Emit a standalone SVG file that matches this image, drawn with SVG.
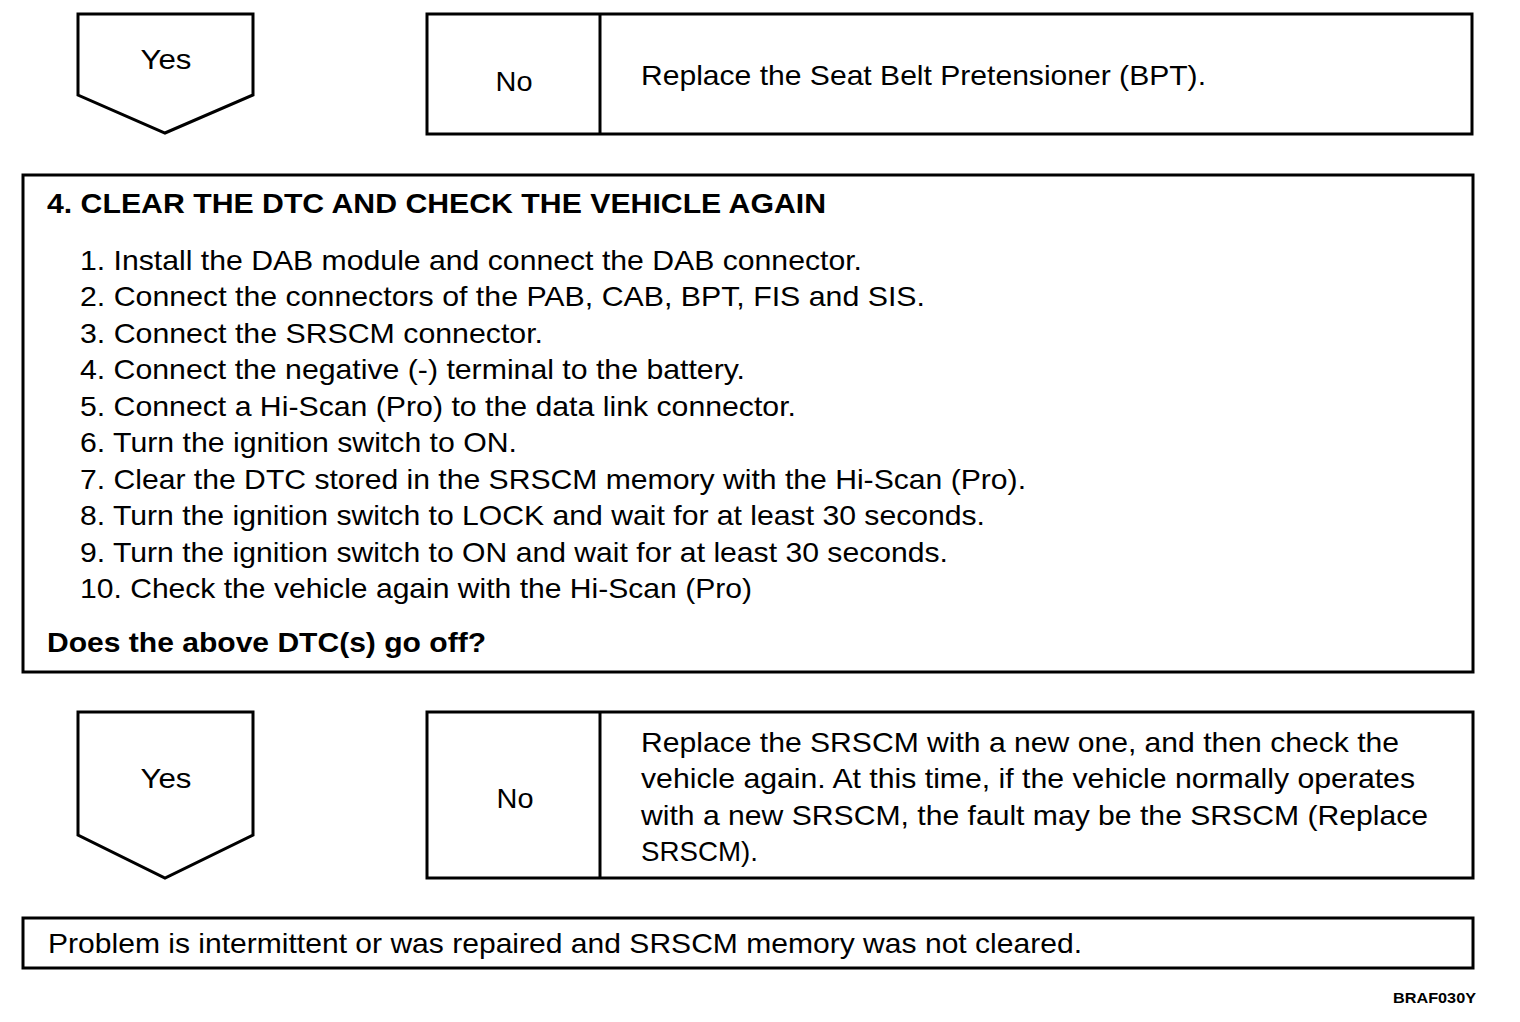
<svg xmlns="http://www.w3.org/2000/svg" width="1520" height="1022" viewBox="0 0 1520 1022">
<style>
.bx{fill:#fff;stroke:#000;stroke-width:3}
.t{font-family:"Liberation Sans",Arial,sans-serif;font-size:28px;fill:#000}
.b{font-weight:bold}
.c{text-anchor:middle}
</style>
<rect width="1520" height="1022" fill="#fff"/>
<g id="connectors"></g>
<g id="yes1">
<polygon class="bx" points="78,14 253,14 253,95 165,133 78,95"/>
<text class="t c" x="166" y="69" textLength="51" lengthAdjust="spacingAndGlyphs">Yes</text>
</g>
<g id="no1">
<rect class="bx" x="427" y="14" width="1045" height="120"/>
<line class="bx" x1="600" y1="14" x2="600" y2="134"/>
<text class="t c" x="514" y="91" textLength="37" lengthAdjust="spacingAndGlyphs">No</text>
<text class="t" x="641" y="85" textLength="565" lengthAdjust="spacingAndGlyphs">Replace the Seat Belt Pretensioner (BPT).</text>
</g>
<g id="step4">
<rect class="bx" x="23" y="175" width="1450" height="497"/>
<text class="t b" x="47" y="213" textLength="779" lengthAdjust="spacingAndGlyphs">4. CLEAR THE DTC AND CHECK THE VEHICLE AGAIN</text>
<text class="t" x="80" y="270" textLength="782" lengthAdjust="spacingAndGlyphs">1. Install the DAB module and connect the DAB connector.</text>
<text class="t" x="80" y="306" textLength="845" lengthAdjust="spacingAndGlyphs">2. Connect the connectors of the PAB, CAB, BPT, FIS and SIS.</text>
<text class="t" x="80" y="343" textLength="463" lengthAdjust="spacingAndGlyphs">3. Connect the SRSCM connector.</text>
<text class="t" x="80" y="379" textLength="665" lengthAdjust="spacingAndGlyphs">4. Connect the negative (-) terminal to the battery.</text>
<text class="t" x="80" y="416" textLength="716" lengthAdjust="spacingAndGlyphs">5. Connect a Hi-Scan (Pro) to the data link connector.</text>
<text class="t" x="80" y="452" textLength="437" lengthAdjust="spacingAndGlyphs">6. Turn the ignition switch to ON.</text>
<text class="t" x="80" y="489" textLength="946" lengthAdjust="spacingAndGlyphs">7. Clear the DTC stored in the SRSCM memory with the Hi-Scan (Pro).</text>
<text class="t" x="80" y="525" textLength="905" lengthAdjust="spacingAndGlyphs">8. Turn the ignition switch to LOCK and wait for at least 30 seconds.</text>
<text class="t" x="80" y="562" textLength="868" lengthAdjust="spacingAndGlyphs">9. Turn the ignition switch to ON and wait for at least 30 seconds.</text>
<text class="t" x="80" y="598" textLength="672" lengthAdjust="spacingAndGlyphs">10. Check the vehicle again with the Hi-Scan (Pro)</text>
<text class="t b" x="47" y="652" textLength="439" lengthAdjust="spacingAndGlyphs">Does the above DTC(s) go off?</text>
</g>
<g id="yes2">
<polygon class="bx" points="78,712 253,712 253,835 165,878 78,835"/>
<text class="t c" x="166" y="788" textLength="51" lengthAdjust="spacingAndGlyphs">Yes</text>
</g>
<g id="no2">
<rect class="bx" x="427" y="712" width="1046" height="166"/>
<line class="bx" x1="600" y1="712" x2="600" y2="878"/>
<text class="t c" x="515" y="808" textLength="37" lengthAdjust="spacingAndGlyphs">No</text>
<text class="t" x="641" y="752" textLength="758" lengthAdjust="spacingAndGlyphs">Replace the SRSCM with a new one, and then check the</text>
<text class="t" x="641" y="788" textLength="774" lengthAdjust="spacingAndGlyphs">vehicle again. At this time, if the vehicle normally operates</text>
<text class="t" x="641" y="825" textLength="787" lengthAdjust="spacingAndGlyphs">with a new SRSCM, the fault may be the SRSCM (Replace</text>
<text class="t" x="641" y="861" textLength="117" lengthAdjust="spacingAndGlyphs">SRSCM).</text>
</g>
<g id="end">
<rect class="bx" x="23" y="918" width="1450" height="50"/>
<text class="t" x="48" y="953" textLength="1034" lengthAdjust="spacingAndGlyphs">Problem is intermittent or was repaired and SRSCM memory was not cleared.</text>
</g>
<text class="b" x="1476" y="1003" text-anchor="end" font-family="Liberation Sans, Arial, sans-serif" font-size="14" textLength="83" lengthAdjust="spacingAndGlyphs">BRAF030Y</text>
</svg>
